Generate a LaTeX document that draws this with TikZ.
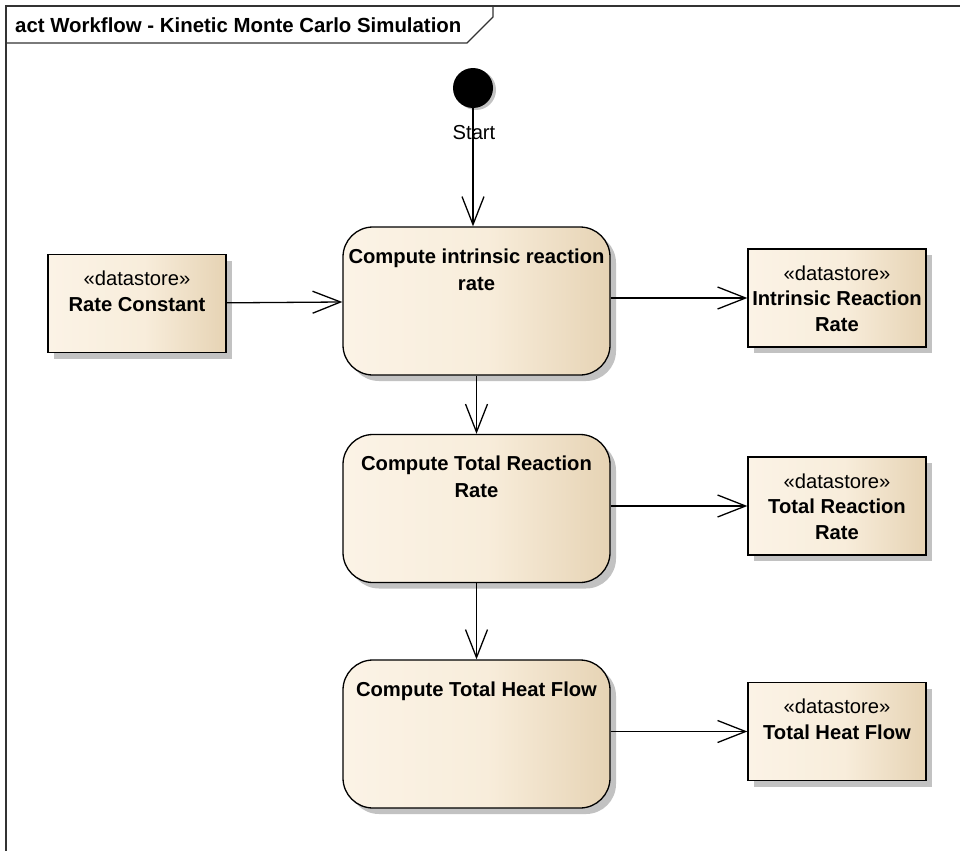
\documentclass[tikz,border=0pt]{standalone}
\usepackage{fontspec}
\setmainfont{Liberation Sans}
\usetikzlibrary{arrows.meta,shadows}

\definecolor{eaL}{HTML}{FBF3E6}
\definecolor{eaM}{HTML}{F8EDDB}
\definecolor{eaR}{HTML}{E6D3B4}
\definecolor{shadowgray}{HTML}{C2C2C2}
\definecolor{framegray}{HTML}{333333}

% light cream fill darkening towards the right edge
\pgfdeclarehorizontalshading{eafill}{100bp}{color(0bp)=(eaL); color(25bp)=(eaL); color(52bp)=(eaM); color(75bp)=(eaR); color(100bp)=(eaR)}

\tikzset{
  x=1pt, y=-1pt,
  lbl/.style={font=\fontsize{20.2}{26}\selectfont, inner sep=0pt},
  box/.style={draw=black, line width=1.3pt, shading=eafill, inner sep=0pt,
    drop shadow={shadow xshift=6pt, shadow yshift=-6pt, fill=shadowgray, opacity=1},
    font=\fontsize{20.2}{26}\selectfont},
  action/.style={box, rounded corners=30pt},
  store/.style={box},
  flow/.style={draw=black, line width=1.3pt, -{Straight Barb[length=28pt,width=22pt]}},
}

\newcommand{\actiontext}[1]{\parbox[c][148pt][t]{267pt}{\centering\bfseries\fontsize{20.2}{27}\selectfont\rule{0pt}{36pt}#1}}
\newcommand{\storetext}[1]{\parbox[c][98pt][t]{178pt}{\centering\fontsize{20.2}{25.5}\selectfont\rule{0pt}{31pt}«datastore»\\\bfseries #1}}

\begin{document}
\begin{tikzpicture}
\useasboundingbox (0,0) rectangle (960,851);

% diagram frame and its name tab
\draw[line width=1.2pt, draw=framegray] (960,6) -- (6,6) -- (6,851);
\draw[line width=1.2pt, draw=framegray] (6,43) -- (467,43) -- (493,17) -- (493,6);
\node[anchor=base west, inner sep=0pt, font=\bfseries\fontsize{20.4}{24}\selectfont] (title) at (15,33) {act Workflow - Kinetic Monte Carlo Simulation};

% initial node
\node[circle, fill=black, minimum size=40pt, inner sep=0pt,
  drop shadow={shadow xshift=3pt, shadow yshift=-2pt, fill=shadowgray, opacity=1}] (start) at (473,88) {};
\node[lbl, anchor=base] (startlbl) at (474,139) {Start};

% actions
\node[action] (a1) at (476.5,301) {\actiontext{Compute intrinsic reaction\\rate}};
\node[action] (a2) at (476.5,508.5) {\actiontext{Compute Total Reaction\\Rate}};
\node[action] (a3) at (476.5,734) {\actiontext{Compute Total Heat Flow}};

% data stores
\node[store] (rc) at (137,303.5) {\storetext{Rate Constant}};
\node[store] (irr) at (837,298) {\storetext{Intrinsic Reaction\\Rate}};
\node[store] (trr) at (837,506) {\storetext{Total Reaction\\Rate}};
\node[store] (thf) at (837,731.5) {\storetext{Total Heat Flow}};

% flows
\draw[flow] (start) -- (start |- a1.north);
\draw[flow] (rc) -- (a1);
\draw[flow] (a1.east |- irr) -- (irr.west);
\draw[flow] (a1) -- (a2);
\draw[flow] (a2.east |- trr) -- (trr.west);
\draw[flow] (a2) -- (a3);
\draw[flow] (a3.east |- thf) -- (thf.west);
\end{tikzpicture}
\end{document}
